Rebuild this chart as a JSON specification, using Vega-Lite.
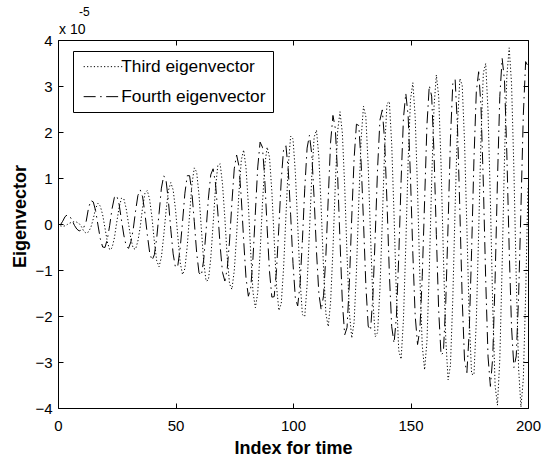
{
  "$schema": "https://vega.github.io/schema/vega-lite/v6.json",
  "width": 470,
  "height": 368,
  "autosize": {"type": "none"},
  "padding": {"left": 58, "top": 40, "right": 15, "bottom": 60},
  "background": "white",
  "config": {
    "font": "Liberation Sans",
    "view": {"stroke": "black", "strokeWidth": 1},
    "axis": {
      "grid": false,
      "domain": false,
      "labelFlush": false,
      "tickColor": "black",
      "tickSize": -5,
      "tickWidth": 1,
      "labelColor": "black",
      "labelFont": "Liberation Sans",
      "labelFontSize": 15,
      "titleColor": "black",
      "titleFont": "Liberation Sans",
      "titleFontSize": 18,
      "titleFontWeight": "bold"
    }
  },
  "title": {
    "text": "\u200b\u00a0\u00a0\u00a0\u00a0\u00a0\u00a0-5",
    "subtitle": "x 10",
    "anchor": "start",
    "frame": "group",
    "dx": 1,
    "offset": -5,
    "font": "Liberation Sans",
    "fontSize": 12,
    "fontWeight": "normal",
    "color": "black",
    "subtitleFont": "Liberation Sans",
    "subtitleFontSize": 14,
    "subtitleColor": "black",
    "subtitlePadding": 4
  },
  "datasets": {
    "ev": [
      {"t":1,"third":-0.04,"fourth":-0.02},{"t":2,"third":-0.05,"fourth":0.06},{"t":3,"third":-0.04,"fourth":0.16},{"t":4,"third":-0.01,"fourth":0.2},{"t":5,"third":0.02,"fourth":0.17},
      {"t":6,"third":0.04,"fourth":0.08},{"t":7,"third":0.05,"fourth":-0.03},{"t":8,"third":0.04,"fourth":-0.11},{"t":9,"third":0.01,"fourth":-0.15},{"t":10,"third":-0.06,"fourth":-0.13},
      {"t":11,"third":-0.16,"fourth":-0.07},{"t":12,"third":-0.2,"fourth":0.06},{"t":13,"third":-0.17,"fourth":0.35},{"t":14,"third":-0.07,"fourth":0.51},{"t":15,"third":0.11,"fourth":0.48},
      {"t":16,"third":0.34,"fourth":0.29},{"t":17,"third":0.45,"fourth":-0.02},{"t":18,"third":0.39,"fourth":-0.32},{"t":19,"third":0.2,"fourth":-0.5},{"t":20,"third":-0.09,"fourth":-0.51},
      {"t":21,"third":-0.39,"fourth":-0.33},{"t":22,"third":-0.56,"fourth":-0.03},{"t":23,"third":-0.52,"fourth":0.33},{"t":24,"third":-0.3,"fourth":0.58},{"t":25,"third":0.04,"fourth":0.62},
      {"t":26,"third":0.36,"fourth":0.43},{"t":27,"third":0.56,"fourth":0.09},{"t":28,"third":0.55,"fourth":-0.24},{"t":29,"third":0.34,"fourth":-0.47},{"t":30,"third":0.01,"fourth":-0.53},
      {"t":31,"third":-0.32,"fourth":-0.39},{"t":32,"third":-0.53,"fourth":-0.12},{"t":33,"third":-0.55,"fourth":0.28},{"t":34,"third":-0.37,"fourth":0.62},{"t":35,"third":-0.06,"fourth":0.74},
      {"t":36,"third":0.36,"fourth":0.59},{"t":37,"third":0.67,"fourth":0.23},{"t":38,"third":0.73,"fourth":-0.23},{"t":39,"third":0.53,"fourth":-0.62},{"t":40,"third":0.14,"fourth":-0.79},
      {"t":41,"third":-0.38,"fourth":-0.67},{"t":42,"third":-0.8,"fourth":-0.31},{"t":43,"third":-0.93,"fourth":0.23},{"t":44,"third":-0.72,"fourth":0.78},{"t":45,"third":-0.25,"fourth":1.05},
      {"t":46,"third":0.3,"fourth":0.94},{"t":47,"third":0.73,"fourth":0.49},{"t":48,"third":0.9,"fourth":-0.12},{"t":49,"third":0.74,"fourth":-0.65},{"t":50,"third":0.32,"fourth":-0.95},
      {"t":51,"third":-0.28,"fourth":-0.9},{"t":52,"third":-0.84,"fourth":-0.52},{"t":53,"third":-1.1,"fourth":0.05},{"t":54,"third":-0.97,"fourth":0.67},{"t":55,"third":-0.48,"fourth":1.05},
      {"t":56,"third":0.2,"fourth":1.05},{"t":57,"third":0.87,"fourth":0.67},{"t":58,"third":1.22,"fourth":0.05},{"t":59,"third":1.13,"fourth":-0.62},{"t":60,"third":0.63,"fourth":-1.06},
      {"t":61,"third":-0.1,"fourth":-1.12},{"t":62,"third":-0.82,"fourth":-0.78},{"t":63,"third":-1.24,"fourth":-0.15},{"t":64,"third":-1.22,"fourth":0.56},{"t":65,"third":-0.75,"fourth":1.07},
      {"t":66,"third":-0.01,"fourth":1.2},{"t":67,"third":0.77,"fourth":0.89},{"t":68,"third":1.27,"fourth":0.26},{"t":69,"third":1.31,"fourth":-0.48},{"t":70,"third":0.87,"fourth":-1.05},
      {"t":71,"third":0.13,"fourth":-1.24},{"t":72,"third":-0.72,"fourth":-0.98},{"t":73,"third":-1.3,"fourth":-0.37},{"t":74,"third":-1.42,"fourth":0.46},{"t":75,"third":-1.02,"fourth":1.2},
      {"t":76,"third":-0.25,"fourth":1.5},{"t":77,"third":0.68,"fourth":1.26},{"t":78,"third":1.39,"fourth":0.56},{"t":79,"third":1.61,"fourth":-0.35},{"t":80,"third":1.23,"fourth":-1.17},
      {"t":81,"third":0.42,"fourth":-1.57},{"t":82,"third":-0.62,"fourth":-1.4},{"t":83,"third":-1.49,"fourth":-0.72},{"t":84,"third":-1.82,"fourth":0.26},{"t":85,"third":-1.49,"fourth":1.24},
      {"t":86,"third":-0.62,"fourth":1.78},{"t":87,"third":0.44,"fourth":1.67},{"t":88,"third":1.29,"fourth":0.96},{"t":89,"third":1.67,"fourth":-0.09},{"t":90,"third":1.45,"fourth":-1.03},
      {"t":91,"third":0.71,"fourth":-1.59},{"t":92,"third":-0.34,"fourth":-1.58},{"t":93,"third":-1.36,"fourth":-0.99},{"t":94,"third":-1.88,"fourth":-0.05},{"t":95,"third":-1.73,"fourth":0.96},
      {"t":96,"third":-0.95,"fourth":1.63},{"t":97,"third":0.18,"fourth":1.7},{"t":98,"third":1.27,"fourth":1.16},{"t":99,"third":1.91,"fourth":0.2},{"t":100,"third":1.85,"fourth":-0.86},
      {"t":101,"third":1.12,"fourth":-1.61},{"t":102,"third":-0.01,"fourth":-1.78},{"t":103,"third":-1.21,"fourth":-1.31},{"t":104,"third":-1.97,"fourth":-0.36},{"t":105,"third":-2.01,"fourth":0.77},
      {"t":106,"third":-1.33,"fourth":1.65},{"t":107,"third":-0.16,"fourth":1.93},{"t":108,"third":1.05,"fourth":1.51},{"t":109,"third":1.89,"fourth":0.55},{"t":110,"third":2.04,"fourth":-0.6},
      {"t":111,"third":1.46,"fourth":-1.51},{"t":112,"third":0.34,"fourth":-1.87},{"t":113,"third":-0.97,"fourth":-1.56},{"t":114,"third":-1.95,"fourth":-0.68},{"t":115,"third":-2.23,"fourth":0.56},
      {"t":116,"third":-1.7,"fourth":1.78},{"t":117,"third":-0.56,"fourth":2.36},{"t":118,"third":0.86,"fourth":2.08},{"t":119,"third":2.02,"fourth":1.05},{"t":120,"third":2.44,"fourth":-0.37},
      {"t":121,"third":1.98,"fourth":-1.7},{"t":122,"third":0.81,"fourth":-2.41},{"t":123,"third":-0.68,"fourth":-2.25},{"t":124,"third":-1.93,"fourth":-1.27},{"t":125,"third":-2.48,"fourth":0.15},
      {"t":126,"third":-2.14,"fourth":1.42},{"t":127,"third":-1.02,"fourth":2.17},{"t":128,"third":0.49,"fourth":2.14},{"t":129,"third":1.86,"fourth":1.33},{"t":130,"third":2.56,"fourth":0.05},
      {"t":131,"third":2.33,"fourth":-1.33},{"t":132,"third":1.26,"fourth":-2.22},{"t":133,"third":-0.26,"fourth":-2.31},{"t":134,"third":-1.66,"fourth":-1.56},{"t":135,"third":-2.45,"fourth":-0.24},
      {"t":136,"third":-2.36,"fourth":1.22},{"t":137,"third":-1.41,"fourth":2.26},{"t":138,"third":0.06,"fourth":2.48},{"t":139,"third":1.63,"fourth":1.8},{"t":140,"third":2.62,"fourth":0.47},
      {"t":141,"third":2.66,"fourth":-1.07},{"t":142,"third":1.74,"fourth":-2.23},{"t":143,"third":0.19,"fourth":-2.59},{"t":144,"third":-1.55,"fourth":-2.02},{"t":145,"third":-2.75,"fourth":-0.71},
      {"t":146,"third":-2.94,"fourth":0.94},{"t":147,"third":-2.08,"fourth":2.3},{"t":148,"third":-0.46,"fourth":2.84},{"t":149,"third":1.37,"fourth":2.35},{"t":150,"third":2.71,"fourth":1.0},
      {"t":151,"third":3.07,"fourth":-0.65},{"t":152,"third":2.32,"fourth":-2.0},{"t":153,"third":0.73,"fourth":-2.62},{"t":154,"third":-1.16,"fourth":-2.29},{"t":155,"third":-2.64,"fourth":-1.14},
      {"t":156,"third":-3.17,"fourth":0.5},{"t":157,"third":-2.55,"fourth":2.15},{"t":158,"third":-1.01,"fourth":3.01},{"t":159,"third":0.92,"fourth":2.78},{"t":160,"third":2.54,"fourth":1.55},
      {"t":161,"third":3.24,"fourth":-0.23},{"t":162,"third":2.77,"fourth":-1.89},{"t":163,"third":1.3,"fourth":-2.85},{"t":164,"third":-0.69,"fourth":-2.79},{"t":165,"third":-2.49,"fourth":-1.71},
      {"t":166,"third":-3.39,"fourth":-0.01},{"t":167,"third":-3.07,"fourth":1.85},{"t":168,"third":-1.63,"fourth":3.05},{"t":169,"third":0.38,"fourth":3.14},{"t":170,"third":2.16,"fourth":2.1},
      {"t":171,"third":3.16,"fourth":0.3},{"t":172,"third":3.02,"fourth":-1.63},{"t":173,"third":1.78,"fourth":-2.97},{"t":174,"third":-0.1,"fourth":-3.23},{"t":175,"third":-2.05,"fourth":-2.33},
      {"t":176,"third":-3.26,"fourth":-0.58},{"t":177,"third":-3.28,"fourth":1.4},{"t":178,"third":-2.12,"fourth":2.87},{"t":179,"third":-0.19,"fourth":3.31},{"t":180,"third":1.88,"fourth":2.55},
      {"t":181,"third":3.28,"fourth":0.87},{"t":182,"third":3.49,"fourth":-1.21},{"t":183,"third":2.44,"fourth":-2.89},{"t":184,"third":0.5,"fourth":-3.53},{"t":185,"third":-1.8,"fourth":-2.89},
      {"t":186,"third":-3.51,"fourth":-1.21},{"t":187,"third":-3.94,"fourth":0.94},{"t":188,"third":-2.95,"fourth":2.77},{"t":189,"third":-0.89,"fourth":3.6},{"t":190,"third":1.44,"fourth":3.12},
      {"t":191,"third":3.22,"fourth":1.52},{"t":192,"third":3.83,"fourth":-0.56},{"t":193,"third":3.05,"fourth":-2.25},{"t":194,"third":1.18,"fourth":-3.12},{"t":195,"third":-1.18,"fourth":-2.87},
      {"t":196,"third":-3.14,"fourth":-1.58},{"t":197,"third":-3.98,"fourth":0.34},{"t":198,"third":-3.37,"fourth":2.36},{"t":199,"third":-1.54,"fourth":3.53},{"t":200,"third":0.83,"fourth":3.43}
    ]
  },
  "data": {"name": "ev"},
  "transform": [{"fold": ["third", "fourth"], "as": ["series", "value"]}],
  "layer": [
    {
      "mark": {"type": "line", "color": "black", "strokeWidth": 1, "clip": true},
      "encoding": {
        "x": {
          "field": "t", "type": "quantitative",
          "scale": {"domain": [0, 200], "nice": false, "zero": false},
          "axis": {"values": [0, 50, 100, 150, 200], "title": "Index for time", "labelPadding": 15, "titlePadding": 6}
        },
        "y": {
          "field": "value", "type": "quantitative",
          "scale": {"domain": [-4, 4], "nice": false},
          "axis": {"values": [-4, -3, -2, -1, 0, 1, 2, 3, 4], "title": "Eigenvector", "labelPadding": 11, "titlePadding": 5, "titleY": 176}
        },
        "strokeDash": {
          "field": "series", "type": "nominal",
          "scale": {"domain": ["third", "fourth"], "range": [[1.2, 2.2], [12, 4.5, 1.5, 4.5]]},
          "legend": {
            "orient": "none",
            "legendX": 15,
            "legendY": 11,
            "title": null,
            "strokeColor": "black",
            "fillColor": "white",
            "padding": 7,
            "cornerRadius": 0,
            "symbolType": "M-1,0H7",
            "symbolSize": 100,
            "symbolStrokeWidth": 1,
            "symbolStrokeColor": "black",
            "labelFont": "Liberation Sans",
            "labelFontSize": 17.3,
            "labelColor": "black",
            "labelOffset": 24,
            "rowPadding": 12,
            "labelExpr": "datum.value == 'third' ? 'Third eigenvector' : 'Fourth eigenvector'"
          }
        }
      }
    },
    {
      "mark": {"type": "line", "opacity": 0},
      "encoding": {
        "x": {
          "field": "t", "type": "quantitative",
          "axis": {"orient": "top", "values": [0, 50, 100, 150, 200], "labels": false, "title": null}
        },
        "y": {
          "field": "value", "type": "quantitative",
          "axis": {"orient": "right", "values": [-4, -3, -2, -1, 0, 1, 2, 3, 4], "labels": false, "title": null}
        },
        "detail": {"field": "series", "type": "nominal"}
      }
    }
  ],
  "resolve": {"axis": {"x": "independent", "y": "independent"}}
}
